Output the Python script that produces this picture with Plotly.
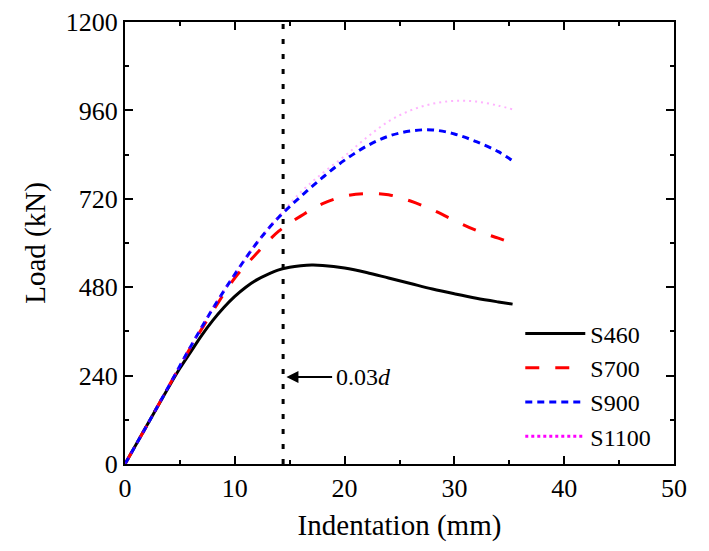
import plotly.graph_objects as go

# Indentation (mm) and Load (kN) values
s460_x = [0, 2, 4, 5, 6, 7, 8, 9, 10, 11, 12, 13, 14, 15, 16, 17, 18, 20, 22, 24, 26, 28, 30, 32, 34, 35.3]
s460_y = [0, 105, 210, 260, 305, 350, 390, 425, 455, 480, 500, 515, 527, 534, 538, 540, 539, 532, 520, 505, 490, 475, 462, 450, 440, 434]

s700_x = [0, 2, 4, 6, 8, 10, 12, 14, 16, 18, 20, 22, 24, 26, 28, 30, 32, 34, 35.4]
s700_y = [0, 105, 212, 318, 415, 505, 572, 632, 673, 707, 727, 734, 731, 714, 690, 661, 634, 613, 598]

s900_x = [0, 2, 4, 6, 8, 10, 12, 14, 16, 18, 20, 22, 24, 26, 28, 30, 32, 34, 35.4]
s900_y = [0, 105, 212, 320, 422, 515, 600, 670, 726, 778, 825, 863, 890, 904, 907, 896, 875, 848, 821]

s1100_x = [0, 2, 4, 6, 8, 10, 12, 14, 16, 18, 20, 22, 24, 26, 28, 30, 32, 34, 35.4]
s1100_y = [0, 105, 212, 320, 424, 515, 600, 672, 738, 790, 836, 886, 930, 960, 978, 986, 984, 973, 962]

line_003d_x = 14.4
x_ticks = [0, 10, 20, 30, 40, 50]
y_ticks = [0, 240, 480, 720, 960, 1200]

FONT = "Liberation Serif"

fig = go.Figure()
fig.add_trace(go.Scatter(x=s460_x, y=s460_y, mode="lines", name="S460",
                         line=dict(color="black", width=3, shape="spline")))
fig.add_trace(go.Scatter(x=s700_x, y=s700_y, mode="lines", name="S700",
                         line=dict(color="#FF0000", width=3, dash="14px,16px", shape="spline")))
fig.add_trace(go.Scatter(x=s900_x, y=s900_y, mode="lines", name="S900",
                         line=dict(color="#0000FF", width=3, dash="7px,5px", shape="spline")))
fig.add_trace(go.Scatter(x=s1100_x, y=s1100_y, mode="lines", name="S1100", showlegend=False,
                         line=dict(color="rgba(255,0,255,0.3)", width=2, dash="2px,4px", shape="spline")))
fig.add_trace(go.Scatter(x=[None], y=[None], mode="lines", name="S1100",
                         line=dict(color="#FF00FF", width=3, dash="3px,3px")))

fig.add_shape(type="line", x0=line_003d_x, x1=line_003d_x, y0=0, y1=1200,
              xref="x", yref="y", line=dict(color="black", width=3, dash="5px,10px"))

fig.add_annotation(x=line_003d_x + 0.3, y=236, ax=line_003d_x + 4.6, ay=236,
                   xref="x", yref="y", axref="x", ayref="y",
                   showarrow=True, arrowhead=2, arrowsize=1.2, arrowwidth=2, arrowcolor="black",
                   text="")
fig.add_annotation(x=line_003d_x + 4.6, y=236, xref="x", yref="y", xanchor="left",
                   showarrow=False, text="0.03<i>d</i>",
                   font=dict(family=FONT, size=24, color="black"))

axis_common = dict(showline=True, linecolor="black", linewidth=2, mirror="ticks",
                   ticks="inside", ticklen=8, tickwidth=2, tickcolor="black",
                   showgrid=False, zeroline=False, automargin=False,
                   tickfont=dict(family=FONT, size=26, color="black"),
                   minor=dict(ticks="inside", ticklen=4, tickwidth=2, tickcolor="black", showgrid=False))

fig.update_xaxes(range=[0, 50], tickvals=x_ticks,
                 title=dict(text="Indentation (mm)", font=dict(family=FONT, size=29, color="black"), standoff=12),
                 **axis_common)
fig.update_xaxes(minor=dict(dtick=5, tick0=0))
fig.update_yaxes(range=[0, 1200], tickvals=y_ticks,
                 title=dict(text="Load (kN)", font=dict(family=FONT, size=29, color="black"), standoff=12),
                 **axis_common)
fig.update_yaxes(minor=dict(dtick=120, tick0=0))

fig.update_layout(
    width=709, height=551,
    margin=dict(l=117, r=43, t=14, b=95, autoexpand=False),
    paper_bgcolor="white", plot_bgcolor="white",
    font=dict(family=FONT, color="black"),
    legend=dict(x=0.72, y=0.345, xanchor="left", yanchor="top",
                font=dict(family=FONT, size=24, color="black"),
                bgcolor="rgba(0,0,0,0)", tracegroupgap=0, itemwidth=60),
)

fig.write_html("out.html")
